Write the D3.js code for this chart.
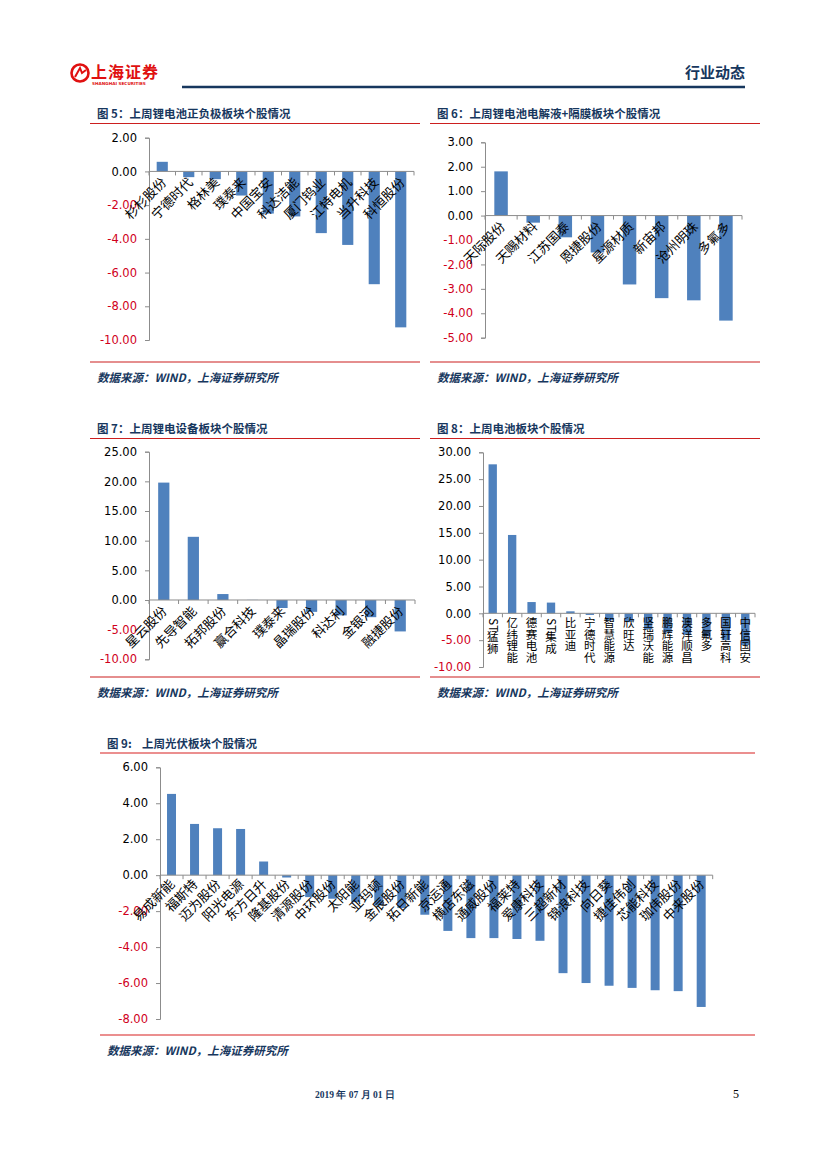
<!DOCTYPE html>
<html>
<head>
<meta charset="utf-8">
<script src="https://cdn.jsdelivr.net/npm/d3@7"></script>
<style>
body { margin: 0; background: #fff; }
svg { display: block; }
</style>
</head>
<body>
<svg id="page" width="827" height="1169"></svg>
<script>
// 图5 锂电池正负极
var cat5 = ["杉杉股份","宁德时代","格林美","璞泰来","中国宝安","科达洁能","厦门钨业","江特电机","当升科技","科恒股份"];
var val5 = [0.57,-0.34,-0.46,-1.43,-2.5,-2.67,-3.66,-4.36,-6.69,-9.25];
var ticks5 = [2,0,-2,-4,-6,-8,-10];

// 图6 电解液+隔膜
var cat6 = ["天际股份","天赐材料","江苏国泰","恩捷股份","星源材质","新宙邦","沧州明珠","多氟多"];
var val6 = [1.81,-0.29,-0.89,-1.51,-2.82,-3.38,-3.47,-4.30];
var ticks6 = [3,2,1,0,-1,-2,-3,-4,-5];

// 图7 锂电设备
var cat7 = ["星云股份","先导智能","拓邦股份","赢合科技","璞泰来","晶瑞股份","科达利","金银河","融捷股份"];
var val7 = [19.79,10.65,1.0,0.02,-1.35,-2.0,-2.6,-2.9,-5.3];
var ticks7 = [25,20,15,10,5,0,-5,-10];

// 图8 电池
var cat8 = ["ST猛狮","亿纬锂能","德赛电池","ST集成","比亚迪","宁德时代","智慧能源","欣旺达","坚瑞沃能","鹏辉能源","澳洋顺昌","多氟多","国轩高科","中信国安"];
var val8 = [27.76,14.6,2.1,2.0,0.37,-0.3,-1.3,-1.55,-3.0,-3.6,-4.0,-4.3,-5.0,-5.9];
var ticks8 = [30,25,20,15,10,5,0,-5,-10];

// 图9 光伏
var cat9 = ["易成新能","福斯特","迈为股份","阳光电源","东方日升","隆基股份","清源股份","中环股份","太阳能","亚玛顿","金辰股份","拓日新能",
            "京运通","横店东磁","通威股份","福莱特","爱康科技","三超新材","锦浪科技","向日葵","捷佳伟创","芯能科技","珈伟股份","中来股份"];
var val9 = [4.52,2.85,2.61,2.57,0.76,-0.13,-1.22,-1.31,-1.5,-1.69,-1.83,-2.2,
            -3.1,-3.5,-3.5,-3.55,-3.65,-5.45,-6.0,-6.15,-6.27,-6.4,-6.45,-7.33];
var ticks9 = [6,4,2,0,-2,-4,-6,-8];

var navy = "#17375e";
var red = "#cc1f1f";
var barColor = "#4f81bd";
var axisGray = "#8c8c8c";
var cjk = "'Noto Sans CJK SC', sans-serif";

var svg = d3.select("#page");

// 页眉
var logo = svg.append("g");
logo.append("circle").attr("cx", 80).attr("cy", 73).attr("r", 8.5)
    .attr("fill", "none").attr("stroke", "#e01010").attr("stroke-width", 2.6);
logo.append("path").attr("d", "M75,77 L80,68 L82,73 L86,70")
    .attr("fill", "none").attr("stroke", "#e01010").attr("stroke-width", 2);
logo.append("text").attr("x", 91).attr("y", 78).text("上海证券")
    .attr("font-family", cjk).attr("font-weight", "bold").attr("font-size", 16)
    .attr("fill", "#e01010").attr("letter-spacing", 1);
logo.append("text").attr("x", 92).attr("y", 85).text("SHANGHAI SECURITIES")
    .attr("font-family", "DejaVu Sans").attr("font-weight", "bold").attr("font-size", 4.2)
    .attr("fill", "#e01010");
svg.append("line").attr("x1", 182).attr("x2", 745).attr("y1", 87).attr("y2", 87)
    .attr("stroke", navy).attr("stroke-width", 2.5);
svg.append("text").attr("x", 745).attr("y", 78).attr("text-anchor", "end").text("行业动态")
    .attr("font-family", cjk).attr("font-weight", "bold").attr("font-size", 15).attr("fill", navy);

// 页脚
svg.append("text").attr("x", 315).attr("y", 1098).text("2019 年 07 月 01 日")
    .attr("font-family", "'Liberation Serif', serif").attr("font-weight", "bold")
    .attr("font-size", 9.5).attr("fill", navy);
svg.append("text").attr("x", 733).attr("y", 1098).text("5")
    .attr("font-family", "'Liberation Serif', serif").attr("font-size", 12).attr("fill", "#000");

// 竖排标签：一个 text，汉字直立，拉丁字母逐个旋转 90 度
function verticalLabel(g, name, cx, top, size) {
  var t = g.append("text").attr("font-family", cjk).attr("font-size", size).attr("fill", "#000");
  var cur = top;
  name.split("").forEach(function(ch) {
    if (/[A-Za-z0-9]/.test(ch)) {
      var tmp = g.append("text").attr("font-family", cjk).attr("font-size", size).text(ch);
      var w = tmp.node().getComputedTextLength();
      tmp.remove();
      t.append("tspan").attr("x", cx - size * 0.36).attr("y", cur + 1).attr("rotate", 90).text(ch);
      cur += w;
    } else {
      t.append("tspan").attr("x", cx - size / 2).attr("y", cur + size * 0.88).text(ch);
      cur += size;
    }
  });
}

function drawChart(o) {
  var g = svg.append("g");

  g.append("text").attr("x", o.titleX).attr("y", o.titleY).text(o.title)
    .attr("font-family", cjk).attr("font-weight", "bold").attr("font-size", 11.5)
    .attr("fill", navy).style("white-space", "pre");
  g.append("line").attr("x1", o.frameL).attr("x2", o.frameR).attr("y1", o.lineTop).attr("y2", o.lineTop)
    .attr("stroke", o.lineColor).attr("stroke-width", o.lineW);
  g.append("line").attr("x1", o.frameL).attr("x2", o.frameR).attr("y1", o.lineBot).attr("y2", o.lineBot)
    .attr("stroke", o.lineColor).attr("stroke-width", o.lineW);
  g.append("text").attr("x", o.titleX).attr("y", o.lineBot + 20).text("数据来源：WIND，上海证券研究所")
    .attr("font-family", cjk).attr("font-weight", "bold").attr("font-style", "italic")
    .attr("font-size", 11.5).attr("fill", navy);

  var y = d3.scaleLinear().domain(d3.extent(o.ticks)).range([o.bottom, o.top]);
  var x = d3.scaleBand().domain(o.cats).range([o.left, o.right])
    .paddingInner(o.pad).paddingOuter(o.pad / 2);
  var data = o.cats.map(function(c, i) { return {name: c, value: o.vals[i]}; });

  // 柱子
  g.selectAll("rect.bar").data(data).enter().append("rect")
    .attr("class", "bar")
    .attr("x", function(d) { return x(d.name); })
    .attr("y", function(d) { return y(Math.max(0, d.value)); })
    .attr("width", x.bandwidth())
    .attr("height", function(d) { return Math.abs(y(d.value) - y(0)); })
    .attr("fill", barColor);

  // y 轴
  var ya = g.append("g").attr("transform", "translate(" + o.left + ",0)")
    .call(d3.axisLeft(y).tickValues(o.ticks).tickSizeOuter(0).tickSize(4).tickPadding(8)
      .tickFormat(function(d) { return d.toFixed(2); }));
  ya.select(".domain").attr("stroke", axisGray);
  ya.selectAll(".tick line").attr("stroke", axisGray);
  ya.selectAll(".tick text")
    .attr("font-family", "'DejaVu Sans', sans-serif").attr("font-size", 11.5)
    .attr("fill", function(d) { return d < 0 ? "#d0001b" : "#000"; });

  // x 轴（零线）
  var y0 = y(0);
  g.append("line").attr("x1", o.left).attr("x2", o.right).attr("y1", y0).attr("y2", y0)
    .attr("stroke", axisGray);
  var bounds = o.cats.map(function(c) { return x(c) - x.step() * x.paddingInner() / 2; });
  bounds.push(o.right);
  g.selectAll("line.xt").data(bounds).enter().append("line")
    .attr("x1", function(d) { return d; }).attr("x2", function(d) { return d; })
    .attr("y1", y0).attr("y2", y0 + 4).attr("stroke", axisGray);

  // 分类标签
  if (o.vertical) {
    data.forEach(function(d) {
      verticalLabel(g, d.name, x(d.name) + x.bandwidth() / 2, y0 + 4, o.catSize);
    });
  } else {
    g.selectAll("text.cat").data(data).enter().append("text")
      .attr("transform", function(d) {
        return "translate(" + (x(d.name) + x.bandwidth() / 2 + o.labDx) + "," + (y0 + o.labDy) + ") rotate(-45)";
      })
      .attr("text-anchor", "end")
      .attr("font-family", cjk).attr("font-size", o.catSize).attr("fill", "#000")
      .text(function(d) { return d.name; });
  }
}

drawChart({title: "图 5：上周锂电池正负极板块个股情况", cats: cat5, vals: val5, ticks: ticks5,
  titleX: 97, titleY: 118, frameL: 90, frameR: 420, lineTop: 123.5, lineBot: 362, lineColor: red, lineW: 1.2,
  left: 149, right: 414, top: 137.7, bottom: 340, pad: 0.58, catSize: 13, labDx: 5, labDy: 12});

drawChart({title: "图 6：上周锂电池电解液+隔膜板块个股情况", cats: cat6, vals: val6, ticks: ticks6,
  titleX: 437, titleY: 118, frameL: 430, frameR: 760, lineTop: 123.5, lineBot: 362, lineColor: red, lineW: 1.2,
  left: 485, right: 742, top: 142.3, bottom: 337.7, pad: 0.58, catSize: 13, labDx: 5, labDy: 12});

drawChart({title: "图 7：上周锂电设备板块个股情况", cats: cat7, vals: val7, ticks: ticks7,
  titleX: 97, titleY: 433, frameL: 90, frameR: 420, lineTop: 438.5, lineBot: 677, lineColor: red, lineW: 1.2,
  left: 149, right: 415, top: 451.7, bottom: 659.3, pad: 0.62, catSize: 13, labDx: 4, labDy: 12});

drawChart({title: "图 8：上周电池板块个股情况", cats: cat8, vals: val8, ticks: ticks8,
  titleX: 437, titleY: 433, frameL: 430, frameR: 760, lineTop: 438.5, lineBot: 677, lineColor: red, lineW: 1.2,
  left: 483, right: 755, top: 452.3, bottom: 667, pad: 0.57, catSize: 11.5, vertical: true});

drawChart({title: "图 9:    上周光伏板块个股情况", cats: cat9, vals: val9, ticks: ticks9,
  titleX: 107, titleY: 748, frameL: 100, frameR: 755, lineTop: 753, lineBot: 1035, lineColor: "#e46a6a", lineW: 1.6,
  left: 160, right: 712.7, top: 767.3, bottom: 1019, pad: 0.61, catSize: 13, labDx: 4, labDy: 10});
</script>
</body>
</html>
